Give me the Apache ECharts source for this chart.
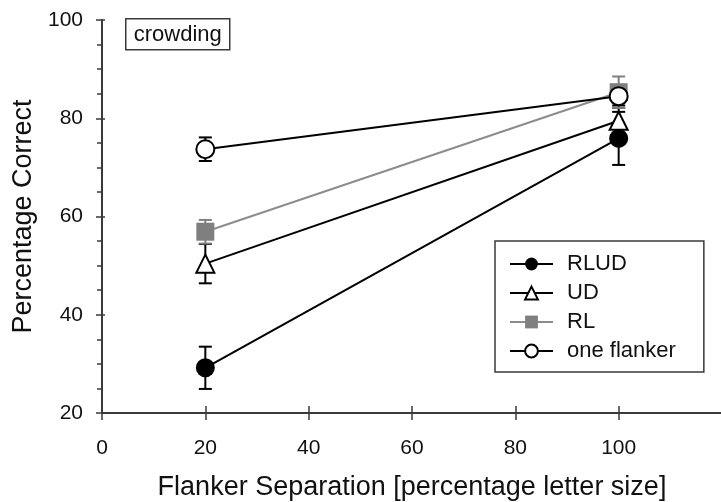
<!DOCTYPE html>
<html>
<head>
<meta charset="utf-8">
<script src="https://cdn.jsdelivr.net/npm/echarts@6/dist/echarts.min.js"></script>
<style>
  html, body { margin: 0; padding: 0; background: #ffffff; overflow: hidden; }
  #chart { width: 721px; height: 502px; }
</style>
</head>
<body>
<div id="chart"></div>
<script>
// Flanker separation (percentage of letter size)
const separations = [20, 100];

// Mean percentage correct and error (half-length of the bar) per condition
const rludMean = [29.2, 75.9];
const rludErr  = [4.3, 5.4];
const udMean   = [50.4, 79.5];
const udErr    = [4.0, 2.6];
const rlMean   = [56.9, 85.3];
const rlErr    = [2.4, 3.2];
const oneMean  = [73.7, 84.5];
const oneErr   = [2.4, 1.9];

const seriesNames = ['RLUD', 'UD', 'RL', 'one flanker'];
const xTickLabels = [0, 20, 40, 60, 80, 100];

const FONT = 'Liberation Sans, Arial, sans-serif';
const BLACK = '#000000';
const GREY_FILL = '#7f7f7f';
const GREY_LINE = '#8c8c8c';
const AXIS = '#3a3a3a';
const TEXT = '#111111';

const pairs = (xs, ys) => xs.map((x, i) => [x, ys[i]]);
const bars = (xs, ys, es) => xs.map((x, i) => [x, ys[i] - es[i], ys[i] + es[i]]);

function errorBars(name, data, color) {
  return {
    type: 'custom',
    name: name,
    xAxisIndex: 0,
    yAxisIndex: 0,
    z: 1,
    silent: true,
    data: data,
    renderItem: function (params, api) {
      const lo = api.coord([api.value(0), api.value(1)]);
      const hi = api.coord([api.value(0), api.value(2)]);
      const half = 6.5;
      const style = { stroke: color, lineWidth: 2, fill: null };
      return {
        type: 'group',
        children: [
          { type: 'line', shape: { x1: lo[0], y1: lo[1], x2: hi[0], y2: hi[1] }, style: style },
          { type: 'line', shape: { x1: lo[0] - half, y1: lo[1], x2: lo[0] + half, y2: lo[1] }, style: style },
          { type: 'line', shape: { x1: hi[0] - half, y1: hi[1], x2: hi[0] + half, y2: hi[1] }, style: style }
        ]
      };
    }
  };
}

function lineSeries(name, data, symbol, fill, border, lineColor, size) {
  return {
    type: 'line',
    name: name,
    xAxisIndex: 0,
    yAxisIndex: 0,
    z: 3,
    data: data,
    symbol: symbol,
    symbolSize: size,
    showAllSymbol: true,
    lineStyle: { color: lineColor, width: 2 },
    itemStyle: { color: fill, borderColor: border, borderWidth: border ? 2 : 0 },
    emphasis: { disabled: true },
    animation: false
  };
}

const chart = echarts.init(document.getElementById('chart'), null, { renderer: 'canvas', width: 721, height: 502 });

const option = {
  animation: false,
  backgroundColor: '#ffffff',
  // the x axis runs on past the right edge of the figure, so the grid is laid out as given
  grid: { left: 102, top: 20, width: 620, height: 393, containLabel: false, outerBoundsMode: 'none' },
  xAxis: [
    {
      type: 'value', min: 0, max: 120, interval: 20,
      name: 'Flanker Separation [percentage letter size]',
      nameLocation: 'middle', nameGap: 61,
      nameTextStyle: { fontFamily: FONT, fontSize: 27, color: TEXT },
      axisLine: { show: true, lineStyle: { color: AXIS, width: 2 } },
      axisTick: { show: true, length: 7, lineStyle: { color: AXIS, width: 1.5 } },
      axisLabel: {
        margin: 25, fontFamily: FONT, fontSize: 21, color: TEXT,
        formatter: v => (xTickLabels.indexOf(v) >= 0 ? String(v) : '')
      },
      splitLine: { show: false }
    },
    {
      // tick marks on the inner side of the x axis
      type: 'value', min: 0, max: 120, interval: 20, position: 'bottom',
      axisLine: { show: false },
      axisTick: { show: true, inside: true, length: 7, lineStyle: { color: AXIS, width: 1.5 } },
      axisLabel: { show: false },
      splitLine: { show: false }
    }
  ],
  yAxis: [
    {
      type: 'value', min: 20, max: 100, interval: 20,
      name: 'Percentage Correct',
      nameLocation: 'middle', nameGap: 65,
      nameTextStyle: { fontFamily: FONT, fontSize: 27, color: TEXT },
      axisLine: { show: true, lineStyle: { color: AXIS, width: 2 } },
      axisTick: { show: true, length: 6, lineStyle: { color: AXIS, width: 1.5 } },
      minorTick: { show: true, splitNumber: 4, length: 5, lineStyle: { color: AXIS, width: 1.5 } },
      axisLabel: { margin: 19, fontFamily: FONT, fontSize: 21, color: TEXT },
      splitLine: { show: false },
      minorSplitLine: { show: false }
    },
    {
      // tick marks on the inner side of the y axis
      type: 'value', min: 20, max: 100, interval: 20, position: 'left',
      axisLine: { show: false },
      axisTick: { show: true, inside: true, length: 3, lineStyle: { color: AXIS, width: 1.5 } },
      axisLabel: { show: false },
      splitLine: { show: false }
    }
  ],
  legend: {
    data: seriesNames,
    orient: 'vertical',
    left: 495, top: 241,
    padding: [12, 28, 10, 14],
    itemGap: 7,
    itemWidth: 43,
    itemHeight: 16,
    borderColor: AXIS,
    borderWidth: 1.5,
    backgroundColor: '#ffffff',
    textStyle: { fontFamily: FONT, fontSize: 22, color: TEXT, lineHeight: 20, padding: [0, 0, 0, 9] },
    selectedMode: false
  },
  graphic: [
    {
      type: 'group', left: 125, top: 18,
      children: [
        { type: 'rect', shape: { x: 0, y: 0, width: 104, height: 31 },
          style: { fill: '#ffffff', stroke: AXIS, lineWidth: 1.5 } },
        { type: 'text', x: 52, y: 16,
          style: { text: 'crowding', fontFamily: FONT, fontSize: 22, fill: TEXT, align: 'center', verticalAlign: 'middle' } }
      ]
    }
  ],
  series: [
    errorBars('RLUD error', bars(separations, rludMean, rludErr), BLACK),
    errorBars('UD error', bars(separations, udMean, udErr), BLACK),
    errorBars('RL error', bars(separations, rlMean, rlErr), GREY_FILL),
    errorBars('one flanker error', bars(separations, oneMean, oneErr), BLACK),
    lineSeries('RLUD', pairs(separations, rludMean), 'circle', BLACK, null, BLACK, 19),
    lineSeries('UD', pairs(separations, udMean), 'triangle', '#ffffff', BLACK, BLACK, 18),
    lineSeries('RL', pairs(separations, rlMean), 'rect', GREY_FILL, null, GREY_LINE, 18),
    lineSeries('one flanker', pairs(separations, oneMean), 'circle', '#ffffff', BLACK, BLACK, 18)
  ]
};

chart.setOption(option);
</script>
</body>
</html>
